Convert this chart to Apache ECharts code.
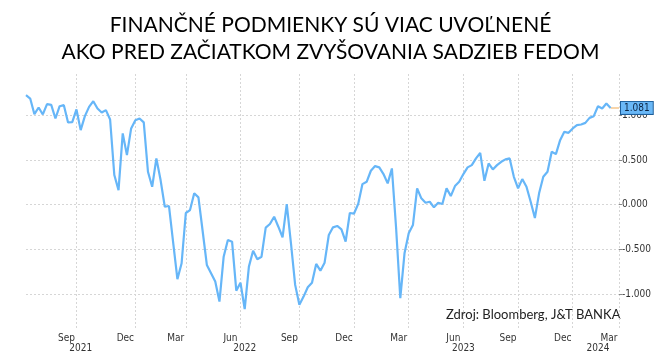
<!DOCTYPE html>
<html><head><meta charset="utf-8">
<script src="https://cdn.jsdelivr.net/npm/echarts@6/dist/echarts.min.js"></script>
<style>html,body{margin:0;padding:0;background:#fff}#c{width:661px;height:355px}</style>
</head><body><div id="c"></div>
<script>
const titleLines = ['FINANČNÉ PODMIENKY SÚ VIAC UVOĽNENÉ', 'AKO PRED ZAČIATKOM ZVYŠOVANIA SADZIEB FEDOM'];
const sourceText = 'Zdroj: Bloomberg, J&T BANKA';
const startDate = [2021, 6, 4];
const weekCount = 142;
const values = [
  1.223, 1.186, 1.011, 1.086, 1.008, 1.123, 1.115, 0.963, 1.100, 1.112,
  0.919, 0.922, 1.064, 0.833, 0.989, 1.093, 1.156, 1.075, 1.030, 1.056,
  0.952, 0.331, 0.163, 0.796, 0.554, 0.852, 0.944, 0.963, 0.919, 0.368,
  0.200, 0.517, 0.275, -0.023, -0.015, -0.428, -0.833, -0.654, -0.093, -0.060,
  0.127, 0.082, -0.294, -0.673, -0.766, -0.859, -1.082, -0.581, -0.394, -0.413,
  -0.960, -0.871, -1.167, -0.692, -0.514, -0.610, -0.581, -0.257, -0.216, -0.134,
  -0.246, -0.364, 0.007, -0.431, -0.896, -1.119, -1.027, -0.922, -0.871, -0.662,
  -0.737, -0.648, -0.339, -0.253, -0.238, -0.275, -0.413, -0.093, -0.099, 0.011,
  0.230, 0.256, 0.379, 0.431, 0.417, 0.342, 0.238, 0.405, -0.260, -1.045,
  -0.543, -0.320, -0.227, 0.182, 0.071, 0.022, 0.033, -0.030, 0.022, 0.007,
  0.182, 0.096, 0.208, 0.256, 0.342, 0.417, 0.442, 0.517, 0.579, 0.267,
  0.461, 0.394, 0.442, 0.479, 0.506, 0.517, 0.312, 0.182, 0.286, 0.200,
  0.033, -0.149, 0.127, 0.312, 0.368, 0.591, 0.565, 0.721, 0.814, 0.803,
  0.852, 0.888, 0.896, 0.914, 0.970, 0.989, 1.100, 1.075, 1.131, 1.081
];
const tickDates = ['2021-08-27', '2021-12-03', '2022-02-25', '2022-05-27', '2022-09-02', '2022-12-02', '2023-03-03', '2023-06-02', '2023-09-01', '2023-12-01', '2024-02-16'];
const tickLabels = ['Sep', 'Dec', 'Mar', 'Jun', 'Sep', 'Dec', 'Mar', 'Jun', 'Sep', 'Dec', 'Mar'];
const yearDates = ['2021-09-03', '2022-06-03', '2023-06-02', '2024-01-12'];
const yearLabels = ['2021', '2022', '2023', '2024'];
const yTicks = [-1, -0.5, 0, 0.5, 1];

const base = Date.UTC(startDate[0], startDate[1] - 1, startDate[2]);
const categories = Array.from({length: weekCount}, (_, i) => new Date(base + i * 7 * 864e5).toISOString().slice(0, 10));
const lastVal = values[values.length - 1];
const lastSeries = categories.map((_, i) => i >= values.length - 1 ? lastVal : null);
const tickSet = new Set(tickDates);
const yearSet = new Set(yearDates);
const axisFont = "'Liberation Sans Narrow', 'DejaVu Sans Condensed', 'Arial Narrow', sans-serif";
const gridLine = {color: '#d6d6d6', type: [2, 2], width: 1};

const chart = echarts.init(document.getElementById('c'), null, {renderer: 'canvas'});
chart.setOption({
  animation: false,
  backgroundColor: '#fff',
  title: {
    text: titleLines.join('\n'), left: 'center', top: 7,
    textStyle: {fontFamily: 'Lato', fontSize: 21, fontWeight: 'normal', lineHeight: 27, color: '#000'}
  },
  graphic: [{
    type: 'text', left: 446, top: 308,
    style: {text: sourceText, fontSize: 13, fontFamily: 'Lato', fill: '#222'}
  }],
  grid: {left: 26, right: 42, top: 74, bottom: 25, outerBoundsMode: 'none'},
  xAxis: [{
    type: 'category', data: categories, boundaryGap: false,
    axisLine: {show: false}, axisTick: {show: false},
    splitLine: {show: true, interval: (i, v) => tickSet.has(v), lineStyle: gridLine},
    axisLabel: {
      interval: (i, v) => tickSet.has(v),
      formatter: v => tickLabels[tickDates.indexOf(v)],
      margin: 3, padding: [0, 20, 0, 0], fontSize: 10, color: '#333', fontFamily: axisFont
    }
  }, {
    type: 'category', data: categories, boundaryGap: false, position: 'bottom', offset: 10,
    axisLine: {show: false}, axisTick: {show: false}, splitLine: {show: false},
    axisLabel: {
      interval: (i, v) => yearSet.has(v),
      formatter: v => yearLabels[yearDates.indexOf(v)],
      margin: 3, fontSize: 10, color: '#333', fontFamily: axisFont
    }
  }],
  yAxis: {
    type: 'value', position: 'right', min: -1.4, max: 1.46,
    axisLine: {show: false},
    axisTick: {show: true, length: 3, customValues: yTicks, lineStyle: {color: '#888'}},
    axisLabel: {customValues: yTicks, formatter: v => v.toFixed(3), margin: 3, fontSize: 10, color: '#333', fontFamily: axisFont},
    splitLine: {show: true, lineStyle: gridLine}
  },
  series: [{
    type: 'line', data: values, showSymbol: false, symbol: 'none',
    lineStyle: {color: '#66b6f8', width: 2.2}, z: 3
  }, {
    type: 'line', data: lastSeries, showSymbol: false, symbol: 'none',
    lineStyle: {color: '#f6c88e', width: 1.5}, z: 2,
    endLabel: {
      show: true, formatter: p => Number(p.value).toFixed(3), distance: 2,
      backgroundColor: '#6ab8f7', borderColor: '#1d5e9a', borderWidth: 1,
      padding: [1, 3], color: '#0b2545', fontSize: 10, fontFamily: axisFont
    }
  }]
});
</script></body></html>
